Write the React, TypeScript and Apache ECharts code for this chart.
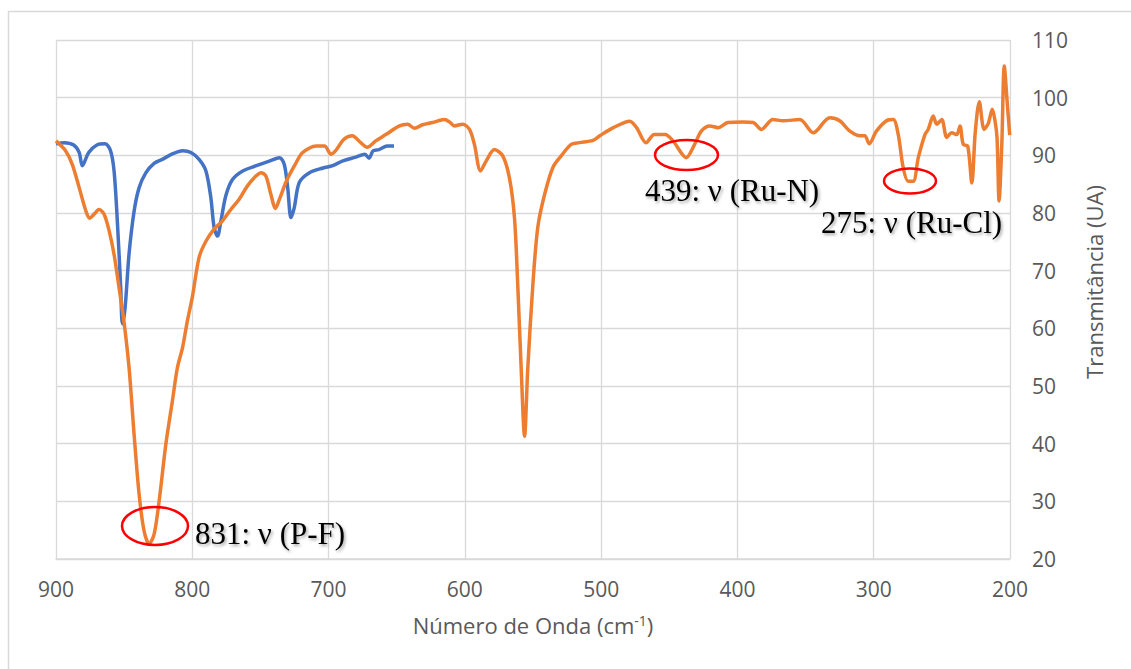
import React, { useEffect, useRef } from "react";
import * as echarts from "echarts";

// Blue spectrum
const blueWavenumber = [900, 894, 887, 883, 880.7, 876, 870, 864, 860, 857.4, 855, 852.5, 851.3, 849.3, 846.4, 842.7, 839, 834, 828, 822, 815, 807, 801, 795, 790, 786.4, 784, 781.5, 779, 775.4, 770.5, 763, 753, 743.5, 736, 732.5, 730, 727.6, 725.2, 721.5, 714, 704, 697, 690, 680, 673.4, 670.3, 667.3, 663, 657, 652];
const blueTransmittance = [92.0, 92.2, 91.8, 90.5, 88.2, 90.5, 91.8, 92.0, 90.8, 87.3, 78.6, 67.0, 60.8, 63.6, 72.9, 80.3, 84.4, 87.0, 88.6, 89.3, 90.2, 90.8, 90.5, 89.3, 87.3, 82.7, 77.5, 76.0, 78.6, 83.0, 85.8, 87.3, 88.2, 89.0, 89.6, 88.4, 84.4, 79.2, 80.9, 85.3, 87.0, 87.8, 88.2, 89.0, 89.7, 90.2, 89.5, 90.8, 91.0, 91.6, 91.6];

// Orange spectrum
const orangeWavenumber = [900, 893, 888, 883, 878, 875.3, 872, 868.4, 864.7, 861, 857.4, 853.7, 850.3, 846.4, 842.7, 839, 835.4, 831.7, 828, 824.3, 819.4, 814.6, 810.9, 807.2, 803.6, 799.9, 795, 790, 784, 778, 771.7, 765.6, 759.5, 753.3, 749.6, 746, 742.3, 739, 736, 731, 725, 719, 709, 703, 698.2, 694.8, 688.7, 682.6, 676.4, 671.6, 665.4, 658, 648, 642, 637, 631, 623.6, 615, 611.3, 607.7, 601.6, 596.6, 593, 588.5, 584.4, 578.3, 572.2, 567.3, 563.6, 561.2, 558.7, 556.2, 553.8, 550.1, 546.5, 541.5, 535.4, 529.3, 522, 516, 506, 501, 491, 479, 474, 467, 461, 453, 447.3, 437.5, 431.4, 426.5, 420.3, 414.2, 407, 396, 388.5, 382.4, 374, 366.5, 354.2, 344.4, 332.2, 325, 317.5, 310, 306.5, 303.3, 298, 290.6, 285.7, 282, 278.4, 274.7, 271, 267.3, 262.4, 260, 256.3, 253.8, 250.1, 246.4, 242.8, 239.1, 236.7, 234.3, 231, 228, 225.5, 222.5, 219, 216, 213, 211, 209.5, 208, 206, 204.2, 202, 200.2];
const orangeTransmittance = [92.5, 90.8, 88.4, 84.4, 80.3, 79.1, 79.8, 80.6, 79.8, 76.9, 72.8, 67.0, 61.5, 53.2, 41.6, 31.2, 24.9, 22.6, 24.3, 30.1, 39.9, 47.4, 53.2, 56.6, 61.3, 65.5, 72.3, 75.1, 77.2, 78.6, 80.6, 82.4, 84.7, 86.4, 87.0, 86.4, 83.2, 80.8, 82.4, 85.5, 88.2, 90.5, 91.6, 91.6, 90.2, 90.8, 92.8, 93.4, 92.2, 91.4, 92.5, 93.6, 95.1, 95.4, 94.7, 95.3, 95.7, 96.2, 95.8, 95.1, 95.4, 94.5, 91.9, 87.3, 89.0, 91.0, 89.9, 86.1, 79.2, 67.6, 53.2, 41.3, 53.2, 67.6, 77.5, 83.2, 87.9, 89.9, 91.9, 92.2, 92.6, 93.4, 94.8, 95.9, 94.8, 92.2, 93.6, 93.6, 92.5, 89.6, 91.9, 94.2, 95.1, 94.8, 95.7, 95.8, 95.7, 94.5, 96.2, 96.0, 96.2, 93.9, 96.5, 96.0, 94.2, 93.4, 93.4, 92.0, 94.2, 96.0, 96.2, 93.6, 87.9, 85.5, 85.5, 89.6, 93.6, 94.5, 96.8, 95.4, 96.2, 93.1, 93.9, 93.6, 95.1, 91.9, 91.6, 85.2, 94.0, 99.3, 94.5, 95.5, 98.0, 96.0, 93.0, 82.1, 92.0, 105.5, 99.0, 93.5];

// Annotations
const annotationLabels = ["831: ν (P-F)", "439: ν (Ru-N)", "275: ν (Ru-Cl)"];

const xTickMin = 200;
const xTickMax = 900;
const yTickMin = 20;
const yTickMax = 110;

export default function App() {
  const ref = useRef<HTMLDivElement>(null);

  useEffect(() => {
    document.body.style.margin = "0";
    if (!ref.current) return;
    const chart = echarts.init(ref.current, null, { renderer: "svg" });

    const blueData = blueWavenumber.map((x, i) => [x, blueTransmittance[i]]);
    const orangeData = orangeWavenumber.map((x, i) => [x, orangeTransmittance[i]]);

    const gridColor = "#d9d9d9";
    const labelColor = "#595959";
    const serif = '"Liberation Serif", "Times New Roman", serif';
    const shadow = {
      textShadowColor: "rgba(0,0,0,0.35)",
      textShadowBlur: 3,
      textShadowOffsetX: 1.5,
      textShadowOffsetY: 2,
    };

    const annText = (text: string, x: number, y: number) => ({
      type: "text",
      x,
      y,
      z: 100,
      silent: true,
      style: {
        text,
        fill: "#000",
        fontSize: 31,
        fontFamily: serif,
        align: "left",
        verticalAlign: "middle",
        ...shadow,
      },
    });

    const ellipse = (cx: number, cy: number, rx: number, ry: number) => ({
      type: "ellipse",
      z: 100,
      silent: true,
      shape: { cx, cy, rx, ry },
      style: { fill: "none", stroke: "#ff0000", lineWidth: 2.5 },
    });

    chart.setOption({
      animation: false,
      backgroundColor: "#ffffff",
      textStyle: { fontFamily: '"Open Sans", sans-serif' },
      grid: { left: 56, right: 121, top: 40, bottom: 110, containLabel: false },
      xAxis: {
        type: "value",
        min: xTickMin,
        max: xTickMax,
        interval: 100,
        inverse: true,
        name: "Número de Onda (cm{sup|-1})",
        nameLocation: "middle",
        nameGap: 54,
        nameTextStyle: {
          color: labelColor,
          fontSize: 22,
          rich: {
            sup: { fontSize: 14, color: labelColor, verticalAlign: "top", padding: [0, 0, 10, 0] },
          },
        },
        axisLine: { show: true, lineStyle: { color: gridColor, width: 1.5 } },
        axisTick: { show: false },
        axisLabel: { color: labelColor, fontSize: 21, margin: 19 },
        splitLine: { show: true, lineStyle: { color: gridColor, width: 1.3 } },
      },
      yAxis: {
        type: "value",
        position: "right",
        min: yTickMin,
        max: yTickMax,
        interval: 10,
        axisLine: { show: false },
        axisTick: { show: false },
        axisLabel: { color: labelColor, fontSize: 21, margin: 22 },
        splitLine: { show: true, lineStyle: { color: gridColor, width: 1.3 } },
      },
      series: [
        {
          type: "line",
          data: blueData,
          showSymbol: false,
          smooth: 0.3,
          lineStyle: { color: "#4472C4", width: 3.5 },
          itemStyle: { color: "#4472C4" },
          z: 2,
        },
        {
          type: "line",
          data: orangeData,
          showSymbol: false,
          smooth: 0.3,
          lineStyle: { color: "#ED7D31", width: 3.5 },
          itemStyle: { color: "#ED7D31" },
          z: 3,
        },
      ],
      graphic: [
        {
          type: "rect",
          silent: true,
          z: -10,
          shape: { x: 8.5, y: 11.5, width: 1300, height: 800 },
          style: { fill: "none", stroke: gridColor, lineWidth: 1.5 },
        },
        {
          type: "text",
          x: 1094,
          y: 282,
          rotation: Math.PI / 2,
          silent: true,
          style: {
            text: "Transmitância (UA)",
            fill: labelColor,
            fontSize: 22,
            fontFamily: '"Open Sans", sans-serif',
            align: "center",
            verticalAlign: "middle",
          },
        },
        ellipse(155, 526, 33, 19),
        ellipse(686.5, 155, 31.5, 15),
        ellipse(910, 181, 26, 12.5),
        annText(annotationLabels[0], 195, 533),
        annText(annotationLabels[1], 645, 190),
        annText(annotationLabels[2], 821, 222),
      ],
    });

    return () => chart.dispose();
  }, []);

  return <div ref={ref} style={{ width: 1131, height: 669 }} />;
}
